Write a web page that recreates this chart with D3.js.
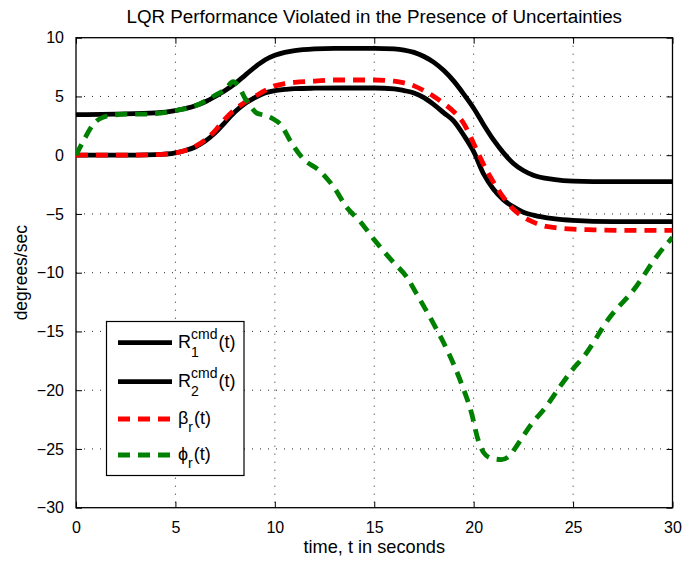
<!DOCTYPE html>
<html>
<head>
<meta charset="utf-8">
<script src="https://cdn.jsdelivr.net/npm/d3@7"></script>
<style>
  body { margin: 0; background: #fff; }
  svg { display: block; font-family: "Liberation Sans", Arial, Helvetica, sans-serif; }
</style>
</head>
<body>
<svg width="683" height="561"></svg>
<script>
// data
var xTicks = [0, 5, 10, 15, 20, 25, 30];
var yTicks = [10, 5, 0, -5, -10, -15, -20, -25, -30];

var r1T = [0,2,4,5,6,6.5,7,7.5,8,8.5,9,9.5,10,10.5,11,12,13,14,15,16,16.5,17,17.5,18,18.5,19,19.5,20,20.5,21,21.5,22,22.5,23,24,25,27,30];
var r1Y = [3.45,3.5,3.6,3.8,4.2,4.55,5.0,5.5,6.1,6.8,7.5,8.1,8.5,8.75,8.9,9.05,9.1,9.1,9.1,9.05,8.95,8.75,8.4,7.9,7.2,6.3,5.2,4.0,2.6,1.3,0.2,-0.7,-1.3,-1.7,-2.05,-2.2,-2.25,-2.25];

var r2T = [0,2,4,5,5.5,6,6.5,7,7.5,8,8.5,9,9.5,10,10.5,11,12,14,15,16,16.5,17,17.5,18,18.5,19,19.5,20,20.5,21,21.5,22,22.5,23,24,25,27,30];
var r2Y = [0,0,0.05,0.2,0.4,0.7,1.2,1.9,2.8,3.7,4.4,4.9,5.3,5.5,5.6,5.67,5.7,5.72,5.72,5.65,5.5,5.3,4.9,4.3,3.6,2.9,1.7,0.3,-1.6,-2.9,-3.8,-4.4,-4.85,-5.1,-5.4,-5.55,-5.65,-5.65];

var betaT = [0,2,4,5,5.5,6,6.5,7,7.5,8,8.5,9,9.5,10,10.5,11,12,13,14,15,16,16.5,17,17.5,18,18.5,19,19.5,20,20.5,21,21.5,22,22.5,23,23.5,24,25,26,28,30];
var betaY = [0,0,0.05,0.2,0.4,0.75,1.3,2.1,3.1,3.9,4.5,5.0,5.5,5.9,6.1,6.2,6.3,6.4,6.4,6.4,6.3,6.15,5.9,5.5,5.0,4.4,3.7,2.7,1.0,-0.8,-2.3,-3.6,-4.6,-5.25,-5.7,-6.0,-6.15,-6.3,-6.35,-6.4,-6.4];

var phiT = [0,0.4,0.9,1.4,1.8,2.5,3.5,5,6,7,7.5,7.9,8.2,8.5,8.8,9.1,9.5,9.9,10.3,10.8,11.4,12.3,13,13.6,14.3,15,15.9,16.6,17.2,18,18.7,19.4,19.9,20.2,20.5,20.9,21.4,21.8,22.1,22.9,23.6,24.3,24.9,25.6,26.8,28.1,29.3,30];
var phiY = [0,1.3,2.7,3.25,3.4,3.5,3.5,3.8,4.2,5.1,5.6,6.25,5.8,4.84,4.1,3.57,3.4,3.1,2.6,1.15,-0.26,-1.4,-2.8,-4.4,-5.66,-7.2,-9.0,-10.3,-12.0,-14.4,-16.7,-19.5,-22.0,-24.1,-25.3,-25.8,-25.9,-25.6,-24.9,-22.9,-21.5,-19.8,-18.4,-17.0,-13.9,-11.35,-8.4,-7.0];

var svg = d3.select('svg');
var pLeft = 76, pRight = 672.5, pTop = 37.7, pBottom = 507.7;

var x = d3.scaleLinear().domain([0, 30]).range([pLeft, pRight]);
var y = d3.scaleLinear().domain([-30, 10]).range([pBottom, pTop]);

// grid (dotted)
var grid = svg.append('g');
grid.selectAll('.vg').data(xTicks.slice(1, -1)).enter().append('line')
    .attr('x1', d => x(d)).attr('x2', d => x(d))
    .attr('y1', pTop).attr('y2', pBottom)
    .attr('stroke', '#222').attr('stroke-width', 1).attr('stroke-dasharray', '1,7');
grid.selectAll('.hg').data(yTicks.slice(1, -1)).enter().append('line')
    .attr('x1', pLeft).attr('x2', pRight)
    .attr('y1', d => y(d)).attr('y2', d => y(d))
    .attr('stroke', '#222').attr('stroke-width', 1).attr('stroke-dasharray', '1,7');

// axes, ticks inside like matlab
function styleAxis(g) {
    g.select('.domain').remove();
    g.selectAll('text').attr('font-size', '16px').attr('fill', '#000')
        .attr('font-family', '"Liberation Sans", Arial, sans-serif');
    g.selectAll('line').attr('stroke', '#000');
}
svg.append('g').attr('transform', 'translate(0,' + pBottom + ')')
    .call(d3.axisBottom(x).tickValues(xTicks).tickSize(-6).tickPadding(14).tickFormat(d3.format('d')))
    .call(styleAxis);
svg.append('g').attr('transform', 'translate(0,' + pTop + ')')
    .call(d3.axisTop(x).tickValues(xTicks).tickSize(-6).tickFormat(''))
    .call(styleAxis);
svg.append('g').attr('transform', 'translate(' + pLeft + ',0)')
    .call(d3.axisLeft(y).tickValues(yTicks).tickSize(-6).tickPadding(12).tickFormat(d => d < 0 ? '\u2212' + Math.abs(d) : d))
    .call(styleAxis);
svg.append('g').attr('transform', 'translate(' + pRight + ',0)')
    .call(d3.axisRight(y).tickValues(yTicks).tickSize(-6).tickFormat(''))
    .call(styleAxis);

svg.append('rect').attr('x', pLeft).attr('y', pTop)
    .attr('width', pRight - pLeft).attr('height', pBottom - pTop)
    .attr('fill', 'none').attr('stroke', '#000').attr('stroke-width', 1.3);

svg.append('clipPath').attr('id', 'clip').append('rect')
    .attr('x', pLeft).attr('y', pTop).attr('width', pRight - pLeft).attr('height', pBottom - pTop);

var line = d3.line().x(d => x(d[0])).y(d => y(d[1])).curve(d3.curveMonotoneX);
function zip(a, b) { return a.map((t, i) => [t, b[i]]); }

var series = [
    { name: 'R1', pts: zip(r1T, r1Y), color: '#000', dash: null },
    { name: 'R2', pts: zip(r2T, r2Y), color: '#000', dash: null },
    { name: 'beta', pts: zip(betaT, betaY), color: '#ff0000', dash: '12,8' },
    { name: 'phi', pts: zip(phiT, phiY), color: '#008000', dash: '12,8' }
];

var plot = svg.append('g').attr('clip-path', 'url(#clip)');
plot.selectAll('path').data(series).enter().append('path')
    .attr('d', d => line(d.pts))
    .attr('fill', 'none')
    .attr('stroke', d => d.color)
    .attr('stroke-width', 4.8)
    .attr('stroke-dasharray', d => d.dash);

// title + axis labels
svg.append('text').attr('x', (pLeft + pRight) / 2).attr('y', 23)
    .attr('text-anchor', 'middle').attr('font-size', '18.8px')
    .text('LQR Performance Violated in the Presence of Uncertainties');
svg.append('text').attr('x', (pLeft + pRight) / 2).attr('y', 553)
    .attr('text-anchor', 'middle').attr('font-size', '18.2px')
    .text('time, t in seconds');
svg.append('text').attr('transform', 'translate(27,' + (pTop + pBottom) / 2 + ') rotate(-90)')
    .attr('text-anchor', 'middle').attr('font-size', '17.5px')
    .text('degrees/sec');

// legend
var leg = svg.append('g');
leg.append('rect').attr('x', 106.5).attr('y', 321.5).attr('width', 137.5).attr('height', 154)
    .attr('fill', '#fff').attr('stroke', '#000').attr('stroke-width', 1.2);
var rowY = [342.7, 381.7, 419, 455];
series.forEach(function (s, i) {
    leg.append('line').attr('x1', 118).attr('x2', 172)
        .attr('y1', rowY[i]).attr('y2', rowY[i])
        .attr('stroke', s.color).attr('stroke-width', 4.8)
        .attr('stroke-dasharray', s.dash);
});
function legText(i, main, sub, sup) {
    var t = leg.append('text').attr('x', 178).attr('y', rowY[i] + 5).attr('font-size', '18px');
    t.append('tspan').text(main);
    var mainW = t.node().getComputedTextLength();
    var subW = 0, supW = 0;
    if (sup) {
        var s1 = t.append('tspan').attr('x', 178 + mainW).attr('dy', -9).attr('font-size', '14px').text(sup);
        supW = s1.node().getComputedTextLength();
    }
    var s2 = t.append('tspan').attr('x', 178 + mainW).attr('dy', sup ? 18 : 8).attr('font-size', '14px').text(sub);
    subW = s2.node().getComputedTextLength();
    t.append('tspan').attr('x', 178 + mainW + Math.max(subW, supW) + 1).attr('dy', sup ? -9 : -8).text('(t)');
}
legText(0, 'R', '1', 'cmd');
legText(1, 'R', '2', 'cmd');
legText(2, '\u03b2', 'r', null);
legText(3, '\u03d5', 'r', null);
</script>
</body>
</html>
